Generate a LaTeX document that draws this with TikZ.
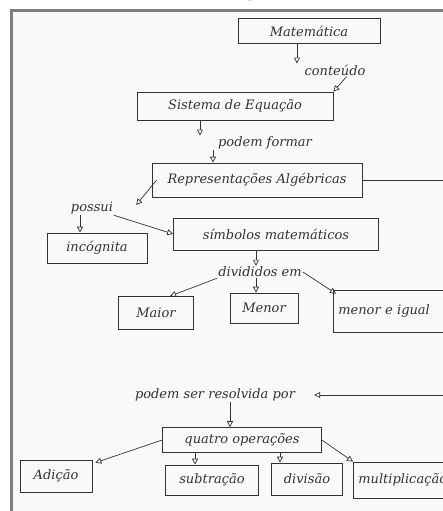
\documentclass[tikz,border=0pt]{standalone}
\usepackage{fontspec}
\setmainfont{DejaVu Serif}
\newfontfamily\titlefont{Liberation Serif}
\usetikzlibrary{arrows.meta}
\definecolor{pencil}{HTML}{333333}
\definecolor{paper}{HTML}{F8F9FB}
\definecolor{moldura}{HTML}{7F7F7F}

\begin{document}
\begin{tikzpicture}[x=1pt,y=-1pt]
      \tikzset{conceito/.style={draw=pencil, line width=0.7pt, inner sep=2pt, text=pencil,
          font=\itshape\fontsize{13}{15}\selectfont}}
      \tikzset{ligacao/.style={inner sep=1pt, text=pencil, font=\itshape\fontsize{13}{15}\selectfont}}
      \tikzset{seta/.style={draw=pencil, line width=0.7pt, -{Triangle[open,length=6pt,width=6pt]}}}
      \useasboundingbox (0,0) rectangle (442,511);
      \fill[white] (0,0) rectangle (442,511);
      \draw[fill=paper, draw=moldura, line width=2.5pt] (11.5,10.5) rectangle (470,540);
      \node[font=\titlefont\bfseries\fontsize{28}{30}\selectfont, anchor=base east, inner sep=0pt] (titulo) at (350,-5) {Mapa conceitual grupo 03};
      % conceitos e palavras de ligacao
      \node[conceito, minimum width=142, minimum height=25] (matematica) at (309,31) {Matemática};
      \node[ligacao] (conteudo) at (335,70) {conteúdo};
      \node[conceito, minimum width=196, minimum height=28] (sistema) at (235,106) {Sistema de Equação};
      \node[ligacao] (formar) at (265,143) {podem formar};
      \node[conceito, minimum width=210, minimum height=34] (representacoes) at (257,180) {Representações Algébricas};
      \node[ligacao] (possui) at (92,208) {possui};
      \node[conceito, minimum width=100, minimum height=30] (incognita) at (97,248) {incógnita};
      \node[conceito, minimum width=205, minimum height=32] (simbolos) at (276,234) {símbolos matemáticos};
      \node[ligacao] (divididos) at (260,272) {divididos em};
      \node[conceito, minimum width=75, minimum height=33] (maior) at (156,313) {Maior};
      \node[conceito, minimum width=68, minimum height=30] (menor) at (264,308) {Menor};
      \node[conceito, minimum width=130, minimum height=42, anchor=west, align=left, text width=120] (menorigual) at (333,311) {menor e igual};
      \node[ligacao] (resolvida) at (215,395) {podem ser resolvida por};
      \node[conceito, minimum width=159, minimum height=25] (operacoes) at (242,440) {quatro operações};
      \node[conceito, minimum width=72, minimum height=32] (adicao) at (56,476) {Adição};
      \node[conceito, minimum width=93, minimum height=30] (subtracao) at (212,480) {subtração};
      \node[conceito, minimum width=71, minimum height=32] (divisao) at (307,479) {divisão};
      \node[conceito, minimum width=100, minimum height=36, anchor=west, align=left, text width=90] (multiplicacao) at (353,480) {multiplicação};
      % ligacoes
      \draw[seta] ([xshift=-12pt]matematica.south) -- ([xshift=-12pt]matematica.south |- conteudo.north);
      \draw[seta] ([xshift=-20pt]conteudo.south east) -- (sistema.north east);
      \draw[seta] ([xshift=-35pt]sistema.south) -- ([xshift=-35pt]sistema.south |- formar.north);
      \draw[seta] ([xshift=-52pt]formar.south) -- ([xshift=-52pt]formar.south |- representacoes.north);
      \draw[seta] ([xshift=5pt]representacoes.west) -- ([xshift=22pt,yshift=3pt]possui.east);
      \draw[seta] ([xshift=-12pt]possui.south) -- ([xshift=-12pt]possui.south |- incognita.north);
      \draw[seta] (possui.south east) -- (simbolos.west);
      \draw[seta] ([xshift=-20pt]simbolos.south) -- ([xshift=-20pt]simbolos.south |- divididos.north);
      \draw[seta] (divididos.south west) -- ([xshift=14pt]maior.north);
      \draw[seta] ([xshift=-4pt]divididos.south) -- ([xshift=-4pt]divididos.south |- menor.north);
      \draw[seta] (divididos.east) -- ([xshift=3pt,yshift=-4pt]menorigual.north west);
      \draw[seta] (representacoes.east) -- ++(110,0) |- ([xshift=18pt]resolvida.east);
      \draw[seta] ([xshift=15pt]resolvida.south) -- ([xshift=15pt]resolvida.south |- operacoes.north);
      \draw[seta] (operacoes.west) -- ([xshift=3pt,yshift=-3pt]adicao.north east);
      \draw[seta] ([xshift=-47pt]operacoes.south) -- ([xshift=-47pt]operacoes.south |- subtracao.north);
      \draw[seta] ([xshift=38pt]operacoes.south) -- ([xshift=38pt]operacoes.south |- divisao.north);
      \draw[seta] (operacoes.east) -- (multiplicacao.north west);
\end{tikzpicture}
\end{document}
